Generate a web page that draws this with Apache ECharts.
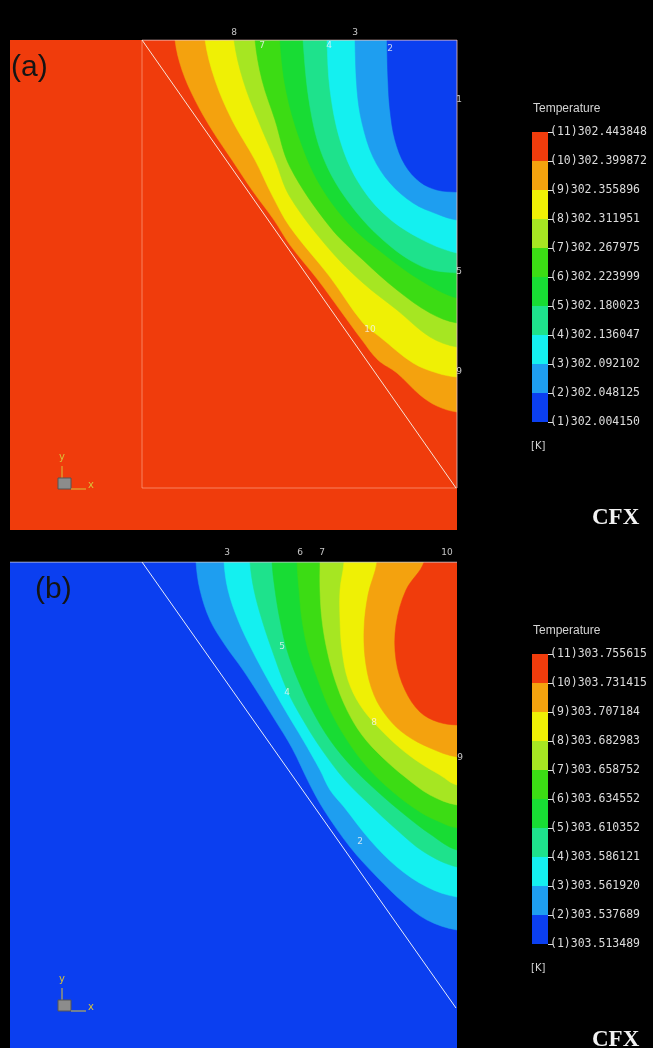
<!DOCTYPE html>
<html><head><meta charset="utf-8">
<script src="https://cdn.jsdelivr.net/npm/echarts@6/dist/echarts.min.js"></script>
<style>html,body{margin:0;padding:0;background:#000}#c{width:653px;height:1048px}</style>
</head><body><div id="c"></div>
<script>
// band colours, band (1)-(2) ... band (10)-(11)
const bandColors = ['#0b3ff0','#1e9ef0','#14f0f0','#1ee28c','#18dc34','#3cdc14','#a6e622','#eff005','#f4a20e','#f03c0c'];
const levelsA = ['302.004150','302.048125','302.092102','302.136047','302.180023','302.223999','302.267975','302.311951','302.355896','302.399872','302.443848'];
const levelsB = ['303.513489','303.537689','303.561920','303.586121','303.610352','303.634552','303.658752','303.682983','303.707184','303.731415','303.755615'];

// contour lines (x right, y down from the panel top), panel (a)
const contourA10 = [[165,0],[172,30],[185,60],[202,90],[222,120],[242,150],[264,180],[280,205],[308,240],[330,270],[352,300],[368,320],[387,333],[410,355],[427,366],[447,372]];
const contourA9 = [[195,0],[205,40],[222,80],[245,120],[262,155],[280,187],[320,237],[353,283],[370,297],[403,323],[427,333],[447,337]];
const contourA8 = [[224,0],[233,40],[248,80],[265,120],[280,157],[320,210],[353,243],[387,270],[420,297],[447,307]];
const contourA7 = [[245,0],[252,40],[265,80],[280,127],[320,187],[353,220],[387,250],[420,273],[447,283]];
const contourA6 = [[270,0],[276,50],[290,100],[310,145],[340,185],[375,215],[410,240],[447,258]];
const contourA5 = [[293,0],[300,67],[313,117],[337,160],[373,200],[413,227],[447,233]];
const contourA4 = [[317,0],[320,50],[330,100],[347,140],[373,173],[407,197],[447,213]];
const contourA3 = [[345,0],[347,50],[352,83],[363,117],[380,143],[403,163],[427,174],[447,180]];
const contourA2 = [[377,0],[378,40],[380,70],[385,100],[395,125],[410,142],[427,150],[447,152]];

// panel (b)
const contourB2 = [[186,0],[190,28],[200,58],[215,83],[233,108],[248,131],[265,158],[282,186],[300,223],[314,248],[340,285],[367,315],[394,341],[417,358],[447,368]];
const contourB3 = [[214,0],[218,28],[228,58],[242,88],[258,118],[275,148],[293,178],[310,208],[320,228],[334,245],[360,278],[387,305],[417,325],[447,335]];
const contourB4 = [[240,0],[244,28],[252,58],[262,88],[277,128],[293,158],[312,188],[335,218],[360,243],[387,268],[414,290],[447,305]];
const contourB5 = [[262,0],[265,28],[270,58],[277,88],[288,118],[302,148],[320,178],[343,206],[368,230],[395,253],[420,272],[447,288]];
const contourB6 = [[287,0],[289,28],[292,58],[298,88],[308,118],[320,148],[337,178],[358,206],[383,230],[410,250],[430,260],[447,266]];
const contourB7 = [[310,0],[310,28],[312,58],[317,88],[325,118],[337,148],[352,173],[372,195],[395,215],[420,233],[447,243]];
const contourB8 = [[334,0],[330,28],[330,58],[332,88],[338,118],[350,143],[368,165],[390,186],[410,201],[430,213],[447,223]];
const contourB9 = [[367,0],[358,33],[354,68],[356,103],[364,133],[378,156],[396,173],[420,186],[447,195]];
const contourB10 = [[414,0],[396,28],[386,63],[386,98],[395,128],[410,150],[428,160],[447,163]];

const diagonalA = [[132,0],[446,448]];
const diagonalB = [[132,0],[446,446]];
const frameA = [[132,0],[132,448],[447,448]];

const labelsA = [['8',224,-7],['3',345,-7],['7',252,6],['4',319,6],['2',380,9],['10',360,290],['1',449,60],['5',449,232],['9',449,332]];
const labelsB = [['3',217,-9],['6',290,-9],['7',312,-9],['10',437,-9],['5',272,85],['4',277,131],['8',364,161],['2',350,280],['9',450,196]];

// draw order (outer first) and fill band of the region inside each contour
const orderA = [contourA10,contourA9,contourA8,contourA7,contourA6,contourA5,contourA4,contourA3,contourA2];
const fillA = [8,7,6,5,4,3,2,1,0];
const orderB = [contourB2,contourB3,contourB4,contourB5,contourB6,contourB7,contourB8,contourB9,contourB10];
const fillB = [1,2,3,4,5,6,7,8,9];

function bandSeries(contours, fills, ai){
  return {
    type:'custom', xAxisIndex:ai, yAxisIndex:ai, clip:true, silent:true,
    data: contours.map((c,i)=>[c[0][0], c[0][1], i]),
    encode:{x:0,y:1},
    renderItem(params, api){
      const c = contours[params.dataIndex];
      const f = c[0], l = c[c.length-1];
      // close the region through the top-right corner, outside the visible panel
      const ring = [[f[0],-30]].concat(c, [[l[0]+30,l[1]],[l[0]+30,-30]]);
      const pts = ring.map(p=>api.coord(p));
      const col = bandColors[fills[params.dataIndex]];
      return {type:'polygon', shape:{points:pts, smooth:0.35}, style:{fill:col, stroke:col, lineWidth:0.5}};
    }
  };
}
function lineSeries(data, ai, color, w){
  return {type:'line', xAxisIndex:ai, yAxisIndex:ai, data, symbol:'none', silent:true,
    lineStyle:{color, width:w||1}, z:5};
}
function labelSeries(items, ai){
  return {type:'scatter', xAxisIndex:ai, yAxisIndex:ai, clip:false, silent:true, symbolSize:0, z:6,
    data: items.map(d=>({name:d[0], value:[d[1],d[2]]})),
    label:{show:true, position:'inside', formatter:p=>p.name, color:'#f4f4f4', fontSize:9, fontFamily:'DejaVu Sans'}};
}
function legendSeries(ai, st){
  return bandColors.map(col=>({type:'bar', xAxisIndex:ai, yAxisIndex:ai, stack:st, data:[1], barWidth:'100%', silent:true, itemStyle:{color:col}}));
}
function legendAxis(ai, levels){
  return {gridIndex:ai, type:'value', min:0, max:10, interval:1, position:'right',
    axisLine:{show:false}, splitLine:{show:false},
    axisTick:{show:true, length:5, lineStyle:{color:'#dcdcdc', width:1}},
    axisLabel:{margin:2, color:'#dcdcdc', fontSize:11.5, fontFamily:'DejaVu Sans Mono', formatter:v=>'('+(v+1)+')'+levels[v]}};
}

const yellow = '#d8c23a';
function triad(dy){
  return [
    {type:'line', shape:{x1:62,y1:466+dy,x2:62,y2:479+dy}, style:{stroke:yellow, lineWidth:1}},
    {type:'text', left:59, top:452+dy, style:{text:'y', fontSize:10, fontFamily:'DejaVu Sans', fill:yellow}},
    {type:'rect', shape:{x:58,y:478+dy,width:13,height:11}, style:{fill:'#8c8c8c', stroke:'#555'}},
    {type:'line', shape:{x1:71,y1:489+dy,x2:86,y2:489+dy}, style:{stroke:yellow, lineWidth:1}},
    {type:'text', left:88, top:480+dy, style:{text:'x', fontSize:10, fontFamily:'DejaVu Sans', fill:yellow}}
  ];
}
function texts(dy, tag, tagX){
  return [
    {type:'text', left:tagX, top:53+dy, style:{text:tag, fontSize:30, fontFamily:'Liberation Sans', fill:'#141414'}},
    {type:'text', left:533, top:103+dy, style:{text:'Temperature', fontSize:12, fontFamily:'Liberation Sans', fill:'#d4d4d4'}},
    {type:'text', left:531, top:441+dy, style:{text:'[K]', fontSize:10, fontFamily:'DejaVu Sans', fill:'#d4d4d4'}},
    {type:'text', left:592, top:507+dy, style:{text:'CFX', fontSize:23, fontWeight:'bold', fontFamily:'Liberation Serif', fill:'#f2f2f2'}}
  ];
}

const chart = echarts.init(document.getElementById('c'), null, {renderer:'canvas', width:653, height:1048});
chart.setOption({
  backgroundColor:'#000',
  animation:false,
  grid:[
    {left:10, top:40, width:447, height:490, show:true, backgroundColor:bandColors[9], borderWidth:0},
    {left:10, top:562, width:447, height:486, show:true, backgroundColor:bandColors[0], borderWidth:0},
    {left:532, top:132, width:16, height:290},
    {left:532, top:654, width:16, height:290}
  ],
  xAxis:[
    {gridIndex:0, type:'value', min:0, max:447, show:false},
    {gridIndex:1, type:'value', min:0, max:447, show:false},
    {gridIndex:2, type:'category', data:['T'], show:false},
    {gridIndex:3, type:'category', data:['T'], show:false}
  ],
  yAxis:[
    {gridIndex:0, type:'value', min:0, max:490, inverse:true, show:false},
    {gridIndex:1, type:'value', min:0, max:486, inverse:true, show:false},
    legendAxis(2, levelsA),
    legendAxis(3, levelsB)
  ],
  series:[
    bandSeries(orderA, fillA, 0),
    bandSeries(orderB, fillB, 1),
    lineSeries(frameA, 0, 'rgba(255,190,170,0.55)'),
    lineSeries([[132,0],[447,0]], 0, '#eec0c0'),
    lineSeries([[447,0],[447,448]], 0, 'rgba(240,190,190,0.8)'),
    lineSeries([[0,0],[447,0]], 1, '#c8c8d8'),
    lineSeries(diagonalA, 0, '#f6e4d8'),
    lineSeries(diagonalB, 1, '#e8ecf8'),
    labelSeries(labelsA, 0),
    labelSeries(labelsB, 1),
    ...legendSeries(2, 'la'),
    ...legendSeries(3, 'lb')
  ],
  graphic:[...texts(0,'(a)',11), ...texts(522,'(b)',35), ...triad(0), ...triad(522)]
});
</script></body></html>
